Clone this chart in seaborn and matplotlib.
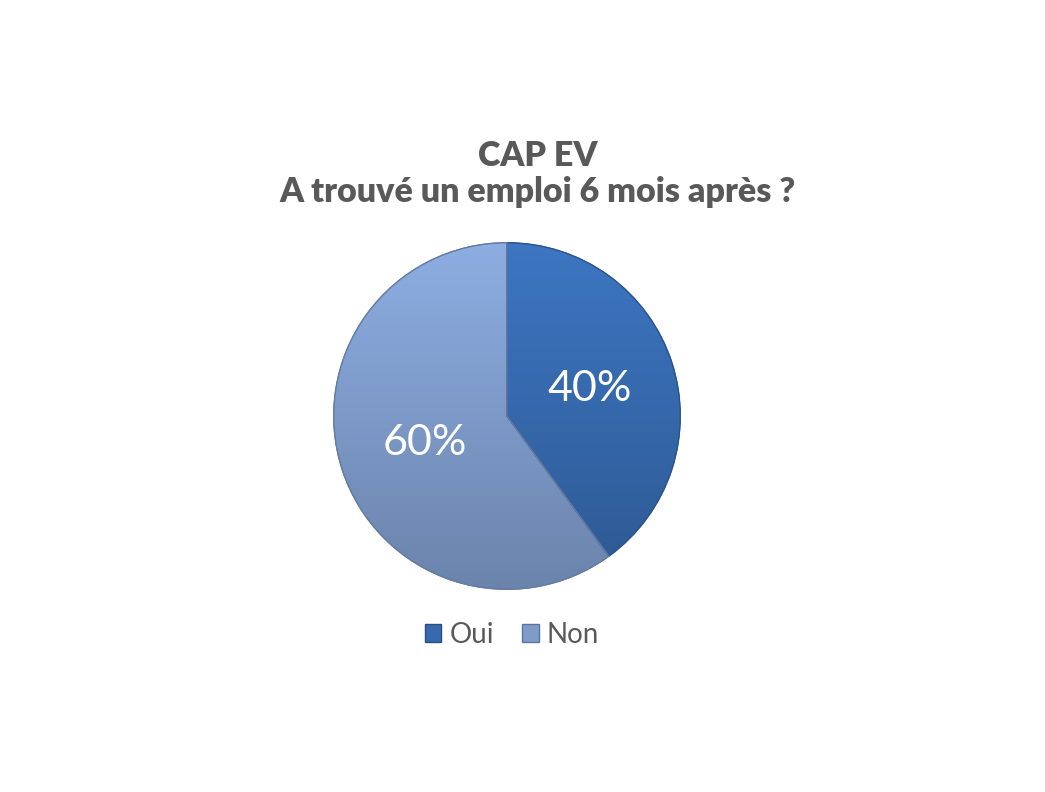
import matplotlib
matplotlib.use("Agg")
import matplotlib.pyplot as plt
import numpy as np
import seaborn as sns

# data
labels = ["Oui", "Non"]
values = [40, 60]
colors = ["#3669AD", "#7E9BCA"]
title = "CAP EV\nA trouvé un emploi 6 mois après ?"

sns.set_theme(style="white")
plt.rcParams['font.family'] = ['Lato', 'DejaVu Sans']

fig = plt.figure(figsize=(10.45, 7.92), dpi=100)
fig.patch.set_facecolor("white")

# pie axes: centre ~ (507, 416) px, radius ~175 px
cx, cy, r = 507, 416, 175
ax = fig.add_axes([(cx - r) / 1045, (792 - cy - r) / 792, 2 * r / 1045, 2 * r / 792])

wedges, texts, autotexts = ax.pie(
    values, colors=colors, startangle=90, counterclock=False,
    autopct="%d%%", pctdistance=0.5, radius=1,
    wedgeprops=dict(edgecolor="#4a6fa5", linewidth=0.8),
    textprops=dict(color="white", fontsize=31),
)

# light vertical gradient on each slice, to mimic the office look
grad = np.linspace(1, 0, 256).reshape(-1, 1)
for w, col in zip(wedges, colors):
    base = np.array(matplotlib.colors.to_rgb(col))
    top = np.clip(base * 1.12, 0, 1)
    bot = base * 0.85
    img = top[None, None, :] * grad[:, :, None] + bot[None, None, :] * (1 - grad[:, :, None])
    im = ax.imshow(img, extent=[-1, 1, -1, 1], origin="upper", zorder=w.get_zorder() + 0.1, aspect="auto")
    im.set_clip_path(w)
    ax.add_patch(matplotlib.patches.Wedge((0, 0), 1, w.theta1, w.theta2, fill=False,
                                          edgecolor=np.clip(base * 0.8, 0, 1), linewidth=1.0,
                                          zorder=w.get_zorder() + 0.2))
for t in autotexts:
    t.set_zorder(10)
ax.set_xlim(-1.01, 1.01)
ax.set_ylim(-1.01, 1.01)
ax.set_aspect("equal")
ax.axis("off")

fig.text(538 / 1045, 1 - 174 / 792, title, ha="center", va="center",
         fontsize=24.5, fontweight="heavy", color="#595959", linespacing=1.18)

handles = [matplotlib.patches.Patch(facecolor=c, edgecolor=np.clip(np.array(matplotlib.colors.to_rgb(c)) * 0.75, 0, 1))
           for c in colors]
fig.legend(handles, labels, loc="center", bbox_to_anchor=(512 / 1045, 1 - 635 / 792),
           ncol=2, frameon=False, fontsize=20, labelcolor="#595959",
           handlelength=0.6, handleheight=0.6, handletextpad=0.3, columnspacing=1.0)

fig.savefig("out.png", dpi=100, facecolor="white")
